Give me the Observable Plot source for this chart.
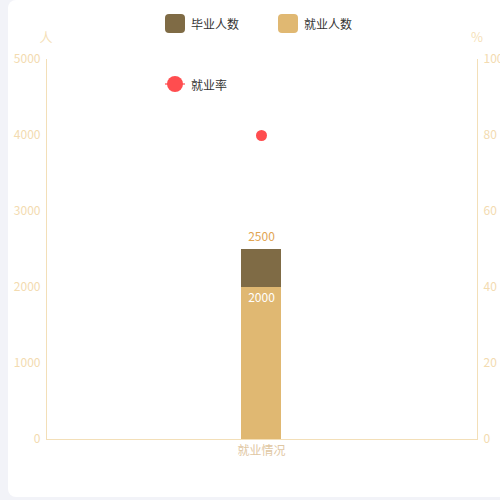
<!DOCTYPE html>
<html><head><meta charset="utf-8">
<script src="https://cdn.jsdelivr.net/npm/d3@7"></script>
<script src="https://cdn.jsdelivr.net/npm/@observablehq/plot@0.6"></script>
<style>
html,body{margin:0;padding:0;background:#f2f3f8;width:500px;height:500px;overflow:hidden;font-family:"Noto Sans CJK SC","Noto Sans",sans-serif;}
#card{position:absolute;left:8px;top:0;width:520px;height:497px;background:#fff;border-radius:8px;}
#chart{position:absolute;left:0;top:0;}
.lg{position:absolute;font-size:12px;color:#333;display:flex;align-items:center;}
.sw{width:20px;height:19px;border-radius:4px;margin-right:6px;}
.unit{position:absolute;font-size:13px;color:#f5dfb8;transform:translateX(-50%);}
</style></head>
<body>
<div id="card"></div>
<div id="chart"></div>
<div class="lg" style="left:165px;top:14px;"><div class="sw" style="background:#7f6b45"></div>毕业人数</div>
<div class="lg" style="left:278px;top:14px;"><div class="sw" style="background:#e0b872"></div>就业人数</div>
<div class="lg" style="left:164px;top:75px;"><svg width="27" height="18" style="margin-right:0px"><line x1="1" y1="9" x2="21" y2="9" stroke="#ff4d4f" stroke-width="2" opacity="0.6"/><circle cx="11" cy="9" r="8" fill="#ff4d4f"/></svg>就业率</div>
<div class="unit" style="left:46px;top:27px;">人</div>
<div class="unit" style="left:477px;top:27px;">%</div>
<script>
const categories = ["就业情况"];
const graduates = [2500];
const employed = [2000];
const rate = [80];
const leftTicks = [0, 1000, 2000, 3000, 4000, 5000];
const rightTicks = [0, 20, 40, 60, 80, 100];

const rows = categories.map((c, i) => ({cat: c, grad: graduates[i], emp: employed[i], rate: rate[i]}));
const k = 5000 / 100;
const axisCol = "#f3dfb8";
const tickCol = "#f3dbb0";

const plot = Plot.plot({
  width: 500, height: 500,
  marginLeft: 46, marginRight: 23, marginTop: 59, marginBottom: 61,
  style: {background: "transparent", fontFamily: "'Noto Sans CJK SC','Noto Sans',sans-serif", fontSize: "12px"},
  x: {domain: categories, padding: 0.83, align: 0.4975, label: null},
  y: {domain: [0, 5000], label: null},
  marks: [
    Plot.barY(rows, {x: "cat", y: "grad", fill: "#7f6b45"}),
    Plot.barY(rows, {x: "cat", y: "emp", fill: "#e0b872"}),
    Plot.text(rows, {x: "cat", y: "grad", text: d => String(d.grad), dy: -12, fill: "#e2a552", fontSize: 12}),
    Plot.text(rows, {x: "cat", y: "emp", text: d => String(d.emp), dy: 11, fill: "#ffffff", fontSize: 12}),
    Plot.dot(rows, {x: "cat", y: d => d.rate * k, r: 5.5, fill: "#ff4d4f"}),
    Plot.frame({anchor: "left", stroke: axisCol}),
    Plot.frame({anchor: "right", stroke: axisCol}),
    Plot.frame({anchor: "bottom", stroke: axisCol}),
    Plot.axisY({ticks: leftTicks, tickFormat: v => String(v), tickSize: 0, tickPadding: 6, label: null, color: tickCol, fontSize: 12}),
    Plot.axisY({anchor: "right", ticks: rightTicks.map(v => v * k), tickFormat: v => String(Math.round(v / k)), tickSize: 0, tickPadding: 6, label: null, color: tickCol, fontSize: 12}),
    Plot.axisX({tickSize: 0, tickPadding: 7, label: null, color: "#dfc7a3", fontSize: 12})
  ]
});
document.getElementById("chart").appendChild(plot);
</script>
</body></html>
